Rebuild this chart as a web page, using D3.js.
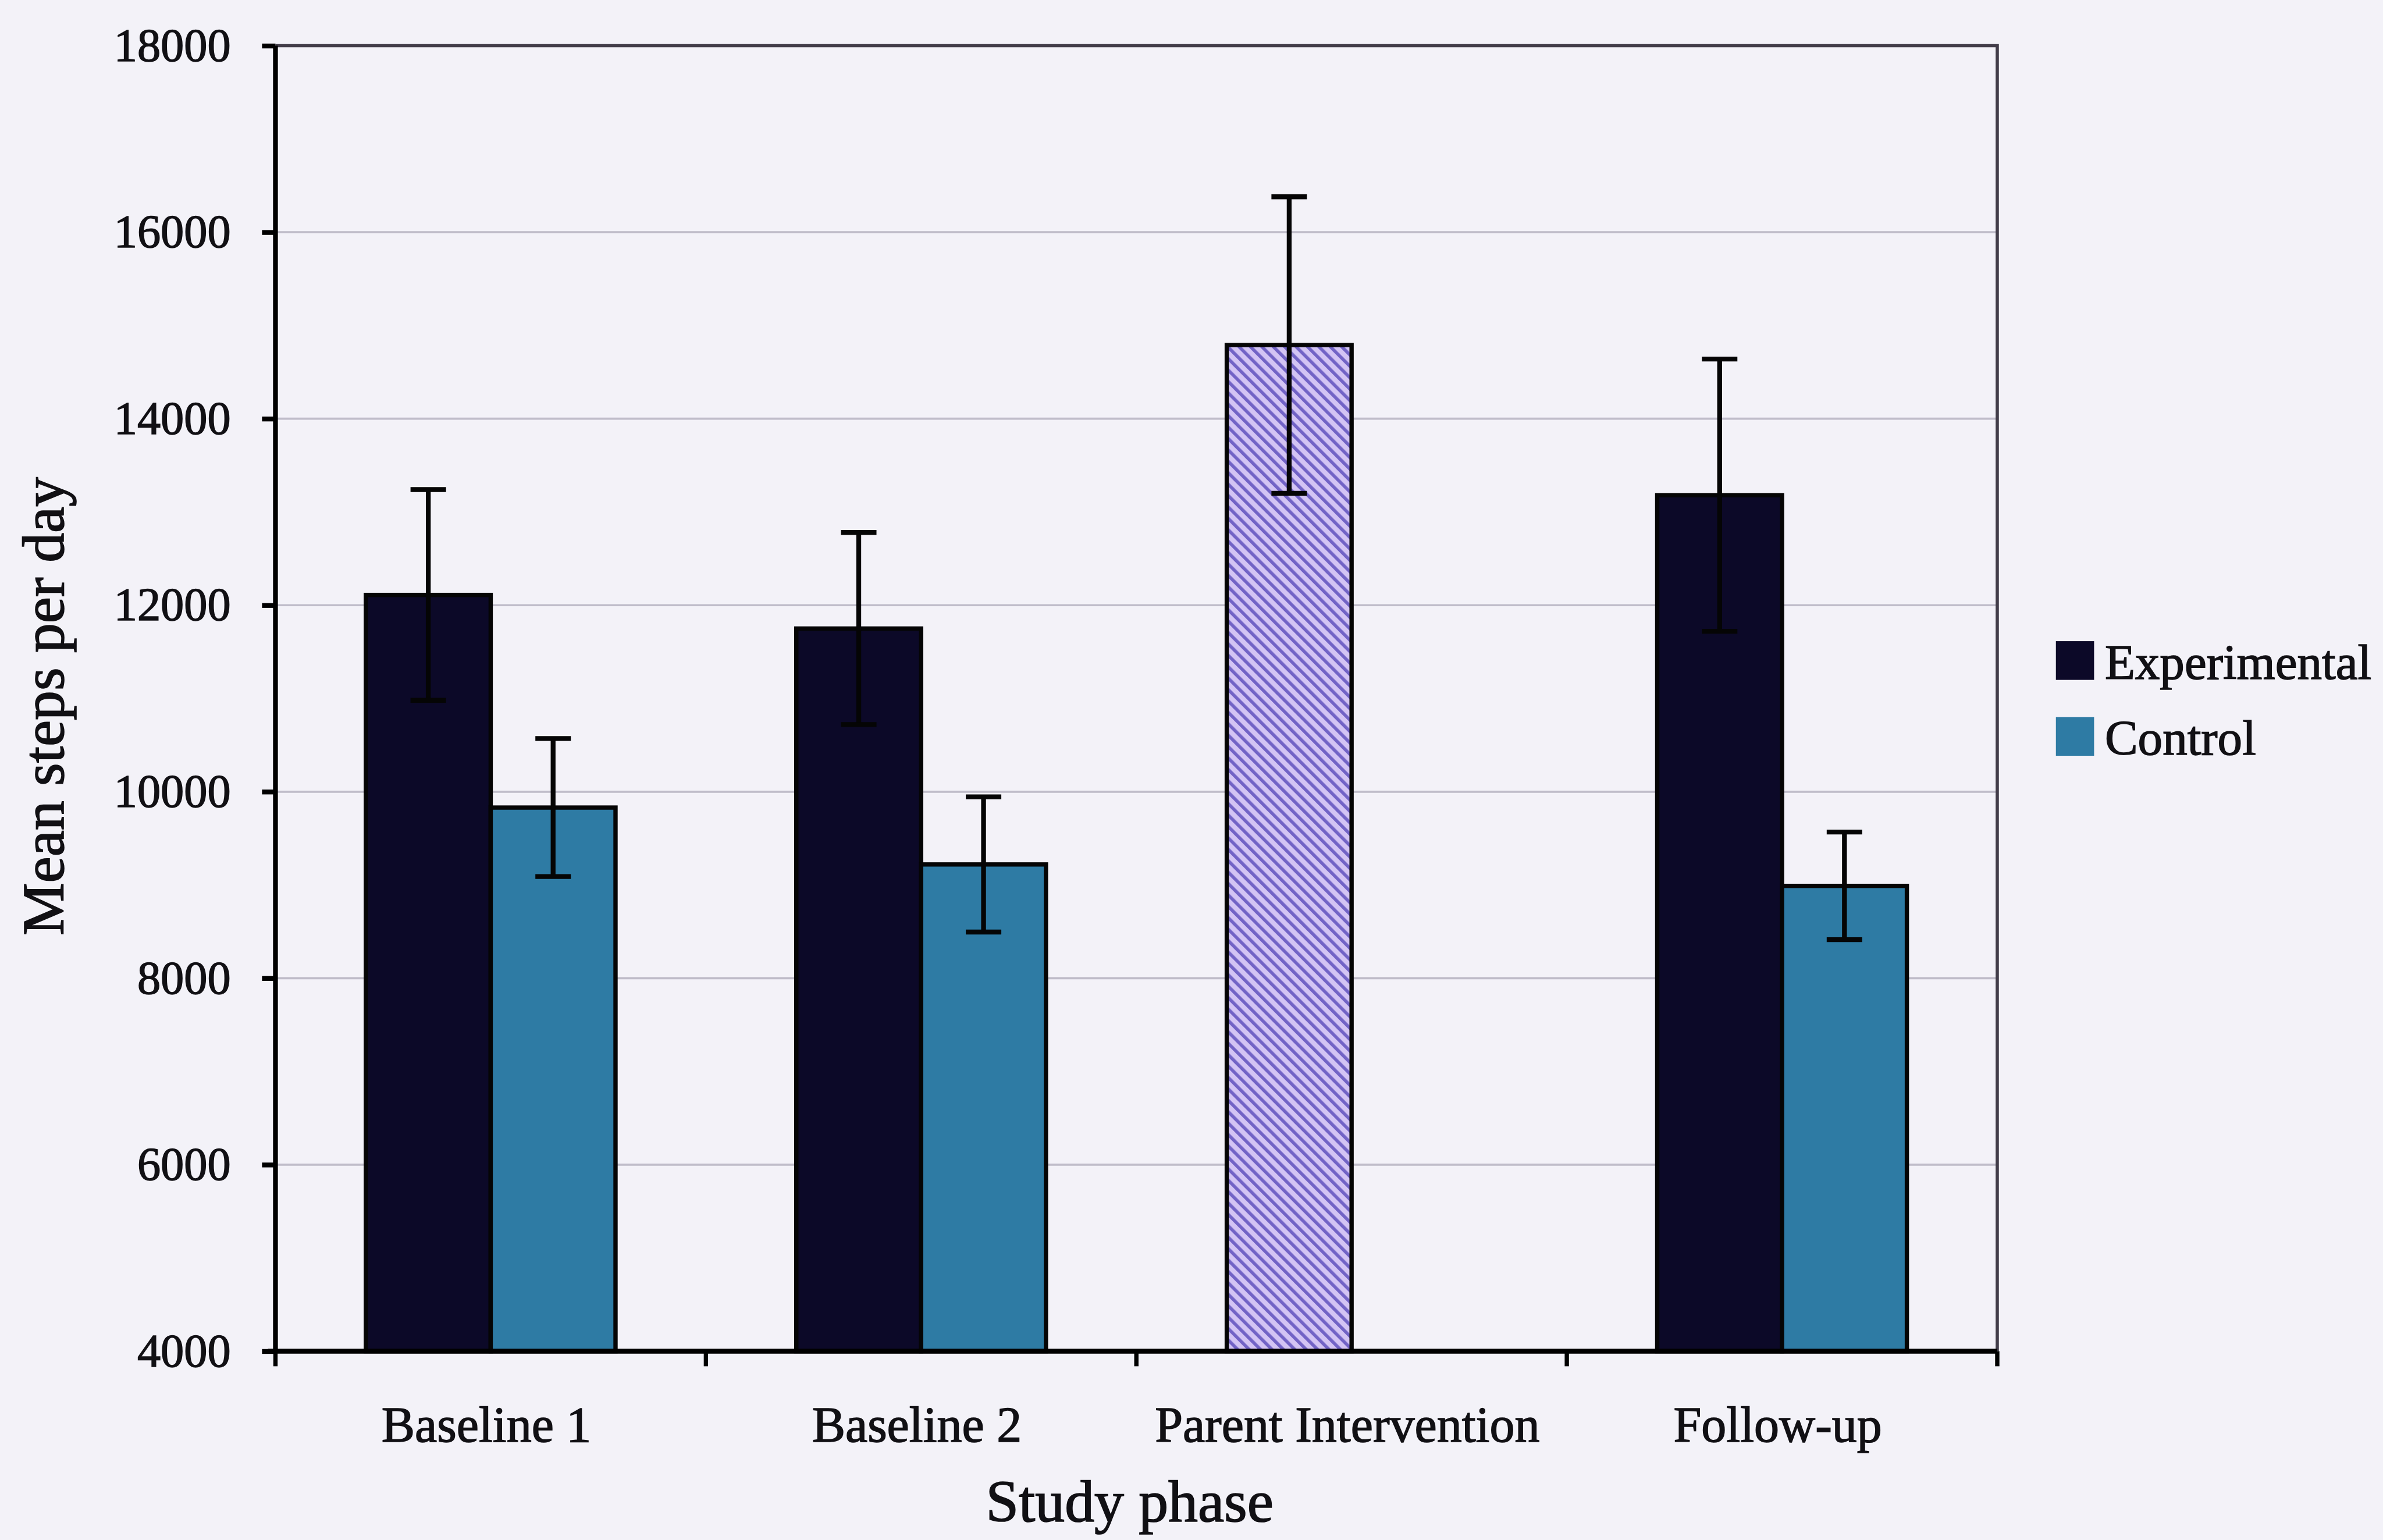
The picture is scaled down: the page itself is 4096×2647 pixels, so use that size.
<!DOCTYPE html>
<html>
<head>
<meta charset="utf-8">
<script src="https://cdn.jsdelivr.net/npm/d3@7"></script>
<style>
  html, body { margin: 0; padding: 0; background: #f3f2f8; overflow: hidden; }
  svg { display: block; }
</style>
</head>
<body>
<svg id="chart"></svg>
<script>
// Mean steps per day by study phase, experimental vs control parents (±SE)
const categories = ["Baseline 1", "Baseline 2", "Parent Intervention", "Follow-up"];
const seriesNames = ["Experimental", "Control"];
const experimentalMeans = [12110, 11750, 14790, 13180];
const experimentalErrors = [1130, 1030, 1590, 1460];
const controlMeans = [9830, 9220, null, 8990];
const controlErrors = [740, 725, null, 577];
const yTicks = [4000, 6000, 8000, 10000, 12000, 14000, 16000, 18000];
const yDomain = [4000, 18000];
const interventionCategory = "Parent Intervention";
const yAxisTitle = "Mean steps per day";
const xAxisTitle = "Study phase";

// drawing space (scaled down to the window through the viewBox)
const W = 4430, H = 2863;
const svg = d3.select("#chart")
  .attr("width", 4096).attr("height", 2647)
  .attr("viewBox", `0 0 ${W} ${H}`);

const plot = { left: 512, right: 3713, top: 85, bottom: 2512 };
const font = "'Liberation Serif', 'Times New Roman', serif";
const ink = "#111014";
const colors = { Experimental: "#0c0928", Control: "#2e7ba4" };

svg.append("rect").attr("width", W).attr("height", H).attr("fill", "#f3f2f8");

// diagonal hatch used for the intervention phase bar
const defs = svg.append("defs");
const pat = defs.append("pattern")
  .attr("id", "hatch").attr("patternUnits", "userSpaceOnUse")
  .attr("width", 15).attr("height", 15)
  .attr("patternTransform", "rotate(-45)");
pat.append("rect").attr("width", 15).attr("height", 15).attr("fill", "#d3c4f4");
pat.append("rect").attr("width", 6).attr("height", 15).attr("fill", "#7263c6");

const x = d3.scaleBand().domain(categories).range([plot.left, plot.right]).padding(0);
const groupWidth = x.bandwidth() * 0.58;
const xSub = d3.scaleBand().domain(seriesNames).range([0, groupWidth]).padding(0);
const y = d3.scaleLinear().domain(yDomain).range([plot.bottom, plot.top]);

// gridlines
svg.append("g").selectAll("line").data(yTicks.filter(t => t > yDomain[0] && t < yDomain[1]))
  .join("line")
  .attr("x1", plot.left).attr("x2", plot.right)
  .attr("y1", d => y(d)).attr("y2", d => y(d))
  .attr("stroke", "#bfbcc9").attr("stroke-width", 4);

// plot frame: top and right edges
svg.append("path")
  .attr("d", `M${plot.left},${y(yDomain[1])}H${plot.right}V${plot.bottom}`)
  .attr("fill", "none").attr("stroke", "#423d49").attr("stroke-width", 6);

// bar data
const bars = [];
categories.forEach((c, i) => {
  if (experimentalMeans[i] != null) bars.push({ cat: c, series: "Experimental", v: experimentalMeans[i], e: experimentalErrors[i] });
  if (controlMeans[i] != null) bars.push({ cat: c, series: "Control", v: controlMeans[i], e: controlErrors[i] });
});
const barX = d => x(d.cat) + (x.bandwidth() - groupWidth) / 2 + xSub(d.series);

svg.append("g").selectAll("rect").data(bars).join("rect")
  .attr("x", barX)
  .attr("width", xSub.bandwidth())
  .attr("y", d => y(d.v))
  .attr("height", d => y(yDomain[0]) - y(d.v))
  .attr("fill", d => d.cat === interventionCategory ? "url(#hatch)" : colors[d.series])
  .attr("stroke", "#050505").attr("stroke-width", 8);

// error bars
const eb = svg.append("g").attr("stroke", "#050505").attr("stroke-width", 9);
const capHalf = 33;
bars.forEach(d => {
  const cx = barX(d) + xSub.bandwidth() / 2;
  eb.append("line").attr("x1", cx).attr("x2", cx).attr("y1", y(d.v + d.e)).attr("y2", y(d.v - d.e));
  eb.append("line").attr("x1", cx - capHalf).attr("x2", cx + capHalf).attr("y1", y(d.v + d.e)).attr("y2", y(d.v + d.e));
  eb.append("line").attr("x1", cx - capHalf).attr("x2", cx + capHalf).attr("y1", y(d.v - d.e)).attr("y2", y(d.v - d.e));
});

// y axis
const yAxis = svg.append("g").attr("transform", `translate(${plot.left},0)`)
  .call(d3.axisLeft(y).tickValues(yTicks).tickFormat(d3.format("d")).tickSize(25).tickPadding(58));
yAxis.select(".domain").attr("stroke", "#000").attr("stroke-width", 9)
  .attr("d", `M0,${plot.top}V${plot.bottom}`);
yAxis.selectAll(".tick line").attr("stroke", "#000").attr("stroke-width", 9);
yAxis.selectAll(".tick text").attr("font-family", font).attr("font-size", 87)
  .attr("fill", ink).attr("stroke", ink).attr("stroke-width", 1.6);

// x axis
const xAxis = svg.append("g").attr("transform", `translate(0,${plot.bottom})`);
xAxis.append("line").attr("x1", plot.left - 14).attr("x2", plot.right)
  .attr("stroke", "#000").attr("stroke-width", 9);
const boundaries = categories.map(c => x(c)).concat([plot.right]);
xAxis.selectAll("line.tk").data(boundaries).join("line").attr("class", "tk")
  .attr("x1", d => d).attr("x2", d => d).attr("y1", 0).attr("y2", 28)
  .attr("stroke", "#000").attr("stroke-width", 8);
xAxis.selectAll("text").data(categories).join("text")
  .attr("x", d => x(d) + x.bandwidth() / 2 - 8).attr("y", 168)
  .attr("text-anchor", "middle")
  .attr("font-family", font).attr("font-size", 93)
  .attr("fill", ink).attr("stroke", ink).attr("stroke-width", 1.6)
  .text(d => d);

// axis titles
svg.append("text")
  .attr("x", 2100).attr("y", 2828).attr("text-anchor", "middle")
  .attr("font-family", font).attr("font-size", 110)
  .attr("fill", ink).attr("stroke", ink).attr("stroke-width", 1.8)
  .text(xAxisTitle);
svg.append("text")
  .attr("transform", "translate(118,1313) rotate(-90)").attr("text-anchor", "middle")
  .attr("font-family", font).attr("font-size", 110)
  .attr("fill", ink).attr("stroke", ink).attr("stroke-width", 1.8)
  .text(yAxisTitle);

// legend
const legend = svg.append("g").attr("transform", "translate(3822,1192)");
seriesNames.forEach((s, i) => {
  const row = legend.append("g").attr("transform", `translate(0,${i * 141})`);
  row.append("rect").attr("width", 71).attr("height", 72).attr("fill", colors[s]);
  row.append("text").attr("x", 91).attr("y", 70)
    .attr("font-family", font).attr("font-size", 92)
    .attr("fill", ink).attr("stroke", ink).attr("stroke-width", 1.6).text(s);
});
</script>
</body>
</html>
